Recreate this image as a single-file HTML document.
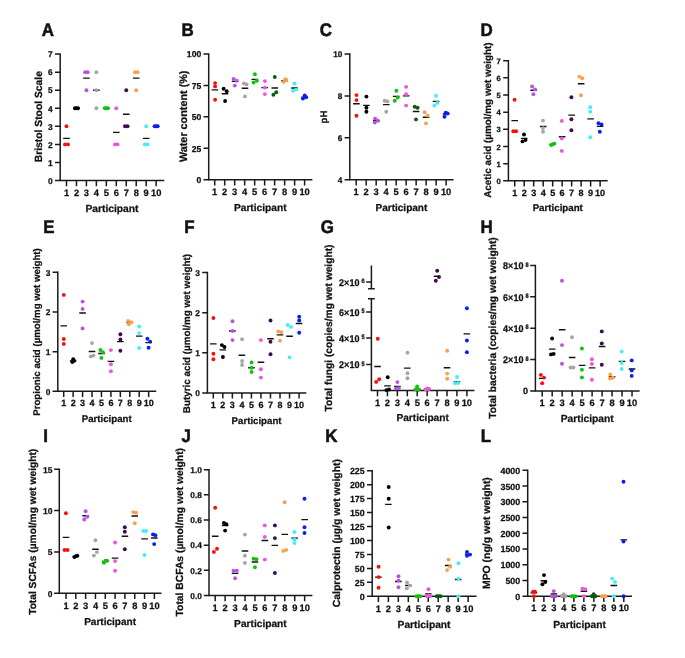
<!DOCTYPE html>
<html><head><meta charset="utf-8"><title>Figure</title>
<style>
html,body{margin:0;padding:0;background:#fff;}
svg{display:block;will-change:transform;}
text{font-family:"Liberation Sans",sans-serif;font-weight:bold;text-rendering:geometricPrecision;fill:#111;stroke:#111;stroke-width:0.25px;}
.lt{stroke-width:0.55px;}
.ax{stroke:#1a1a1a;stroke-width:1.5;fill:none;}
.mn{stroke:#111;stroke-width:1.35;fill:none;}
</style></head><body>
<svg width="685" height="658" viewBox="0 0 685 658" xmlns="http://www.w3.org/2000/svg">
<g><path d="M60.2 53.38V180.5" class="ax"/><path d="M59.5 180.5H164.3" class="ax"/><path d="M55 180.5H60.2M55 162.44H60.2M55 144.38H60.2M55 126.32H60.2M55 108.26H60.2M55 90.2H60.2M55 72.14H60.2M55 54.08H60.2" class="ax"/><path d="M66.5 180.5V186.2M76.46 180.5V186.2M86.42 180.5V186.2M96.38 180.5V186.2M106.34 180.5V186.2M116.3 180.5V186.2M126.26 180.5V186.2M136.22 180.5V186.2M146.18 180.5V186.2M156.14 180.5V186.2" class="ax"/><text transform="translate(52.7 180.5) scale(1 1.0)" y="3.28" font-size="8.4" text-anchor="end">0</text><text transform="translate(52.7 162.44) scale(1 1.0)" y="3.28" font-size="8.4" text-anchor="end">1</text><text transform="translate(52.7 144.38) scale(1 1.0)" y="3.28" font-size="8.4" text-anchor="end">2</text><text transform="translate(52.7 126.32) scale(1 1.0)" y="3.28" font-size="8.4" text-anchor="end">3</text><text transform="translate(52.7 108.26) scale(1 1.0)" y="3.28" font-size="8.4" text-anchor="end">4</text><text transform="translate(52.7 90.2) scale(1 1.0)" y="3.28" font-size="8.4" text-anchor="end">5</text><text transform="translate(52.7 72.14) scale(1 1.0)" y="3.28" font-size="8.4" text-anchor="end">6</text><text transform="translate(52.7 54.08) scale(1 1.0)" y="3.28" font-size="8.4" text-anchor="end">7</text><text transform="translate(66.5 192.3) scale(1 1.0)" y="3.3" font-size="9.3" text-anchor="middle">1</text><text transform="translate(76.46 192.3) scale(1 1.0)" y="3.3" font-size="9.3" text-anchor="middle">2</text><text transform="translate(86.42 192.3) scale(1 1.0)" y="3.3" font-size="9.3" text-anchor="middle">3</text><text transform="translate(96.38 192.3) scale(1 1.0)" y="3.3" font-size="9.3" text-anchor="middle">4</text><text transform="translate(106.34 192.3) scale(1 1.0)" y="3.3" font-size="9.3" text-anchor="middle">5</text><text transform="translate(116.3 192.3) scale(1 1.0)" y="3.3" font-size="9.3" text-anchor="middle">6</text><text transform="translate(126.26 192.3) scale(1 1.0)" y="3.3" font-size="9.3" text-anchor="middle">7</text><text transform="translate(136.22 192.3) scale(1 1.0)" y="3.3" font-size="9.3" text-anchor="middle">8</text><text transform="translate(146.18 192.3) scale(1 1.0)" y="3.3" font-size="9.3" text-anchor="middle">9</text><text transform="translate(156.14 192.3) scale(1 1.0)" y="3.3" font-size="9.3" text-anchor="middle">10</text><text x="111.95" y="212.1" font-size="10.29" text-anchor="middle">Participant</text><text transform="translate(41.6 116.7) rotate(-90)" font-size="10.33" text-anchor="middle">Bristol Stool Scale</text><text transform="translate(41.66 35.73) scale(0.93 1)" font-size="18.2" class="lt">A</text><path d="M63.2 138.36h6.6M73.16 108.26h6.6M83.12 78.16h6.6M93.08 90.2h6.6M103.04 108.26h6.6M113 132.34h6.6M122.96 114.28h6.6M132.92 78.16h6.6M142.88 138.36h6.6M152.84 126.32h6.6" class="mn"/><circle cx="65" cy="144.38" r="1.95" fill="#f21111"/><circle cx="68" cy="144.38" r="1.95" fill="#f21111"/><circle cx="66.5" cy="126.32" r="1.95" fill="#f21111"/><circle cx="74.96" cy="108.26" r="1.95" fill="#000000"/><circle cx="76.46" cy="108.26" r="1.95" fill="#000000"/><circle cx="77.96" cy="108.26" r="1.95" fill="#000000"/><circle cx="85.12" cy="72.14" r="1.95" fill="#b554e0"/><circle cx="87.72" cy="72.14" r="1.95" fill="#b554e0"/><circle cx="86.42" cy="90.2" r="1.95" fill="#b554e0"/><circle cx="96.38" cy="72.14" r="1.95" fill="#a6a6a6"/><circle cx="96.38" cy="90.2" r="1.95" fill="#a6a6a6"/><circle cx="96.38" cy="108.26" r="1.95" fill="#a6a6a6"/><circle cx="104.84" cy="108.26" r="1.95" fill="#12c012"/><circle cx="106.34" cy="108.26" r="1.95" fill="#12c012"/><circle cx="107.84" cy="108.26" r="1.95" fill="#12c012"/><circle cx="116.3" cy="108.26" r="1.95" fill="#ee55dd"/><circle cx="115" cy="144.38" r="1.95" fill="#ee55dd"/><circle cx="117.6" cy="144.38" r="1.95" fill="#ee55dd"/><circle cx="126.26" cy="90.2" r="1.95" fill="#3e0b50"/><circle cx="124.96" cy="126.32" r="1.95" fill="#3e0b50"/><circle cx="127.56" cy="126.32" r="1.95" fill="#3e0b50"/><circle cx="134.92" cy="72.14" r="1.95" fill="#f7a14f"/><circle cx="137.52" cy="72.14" r="1.95" fill="#f7a14f"/><circle cx="136.22" cy="90.2" r="1.95" fill="#f7a14f"/><circle cx="146.18" cy="126.32" r="1.95" fill="#44eef8"/><circle cx="144.88" cy="144.38" r="1.95" fill="#44eef8"/><circle cx="147.48" cy="144.38" r="1.95" fill="#44eef8"/><circle cx="154.64" cy="126.32" r="1.95" fill="#0a1ef0"/><circle cx="156.14" cy="126.32" r="1.95" fill="#0a1ef0"/><circle cx="157.64" cy="126.32" r="1.95" fill="#0a1ef0"/></g>
<g><path d="M208.7 53.3V179.7" class="ax"/><path d="M208 179.7H312.4" class="ax"/><path d="M203.5 179.7H208.7M203.5 148.27H208.7M203.5 116.85H208.7M203.5 85.42H208.7M203.5 54H208.7" class="ax"/><path d="M214.7 179.7V185.4M224.69 179.7V185.4M234.68 179.7V185.4M244.67 179.7V185.4M254.66 179.7V185.4M264.65 179.7V185.4M274.64 179.7V185.4M284.63 179.7V185.4M294.62 179.7V185.4M304.61 179.7V185.4" class="ax"/><text transform="translate(201.2 179.7) scale(1 1.0)" y="3.35" font-size="8.6" text-anchor="end">0</text><text transform="translate(201.2 148.27) scale(1 1.0)" y="3.35" font-size="8.6" text-anchor="end">25</text><text transform="translate(201.2 116.85) scale(1 1.0)" y="3.35" font-size="8.6" text-anchor="end">50</text><text transform="translate(201.2 85.42) scale(1 1.0)" y="3.35" font-size="8.6" text-anchor="end">75</text><text transform="translate(201.2 54) scale(1 1.0)" y="3.35" font-size="8.6" text-anchor="end">100</text><text transform="translate(214.7 191.45) scale(1 1.0)" y="3.3" font-size="9.3" text-anchor="middle">1</text><text transform="translate(224.69 191.45) scale(1 1.0)" y="3.3" font-size="9.3" text-anchor="middle">2</text><text transform="translate(234.68 191.45) scale(1 1.0)" y="3.3" font-size="9.3" text-anchor="middle">3</text><text transform="translate(244.67 191.45) scale(1 1.0)" y="3.3" font-size="9.3" text-anchor="middle">4</text><text transform="translate(254.66 191.45) scale(1 1.0)" y="3.3" font-size="9.3" text-anchor="middle">5</text><text transform="translate(264.65 191.45) scale(1 1.0)" y="3.3" font-size="9.3" text-anchor="middle">6</text><text transform="translate(274.64 191.45) scale(1 1.0)" y="3.3" font-size="9.3" text-anchor="middle">7</text><text transform="translate(284.63 191.45) scale(1 1.0)" y="3.3" font-size="9.3" text-anchor="middle">8</text><text transform="translate(294.62 191.45) scale(1 1.0)" y="3.3" font-size="9.3" text-anchor="middle">9</text><text transform="translate(304.61 191.45) scale(1 1.0)" y="3.3" font-size="9.3" text-anchor="middle">10</text><text x="260.25" y="211.4" font-size="10.19" text-anchor="middle">Participant</text><text transform="translate(186.6 116.3) rotate(-90)" font-size="10.82" text-anchor="middle">Water content (%)</text><text transform="translate(181.52 35.73) scale(0.93 1)" font-size="18.2" class="lt">B</text><path d="M211.6 89.8h6.6M221.7 93.7h6.6M231.8 81.4h6.6M241.7 88.2h6.6M251.5 79.3h6.6M261.4 87.6h6.6M271.5 88h6.6M281.3 80.7h6.6M291.2 88h6.6M301.3 97.1h6.6" class="mn"/><circle cx="215.1" cy="83.1" r="1.95" fill="#f21111"/><circle cx="215.1" cy="86.4" r="1.95" fill="#f21111"/><circle cx="215.1" cy="99.8" r="1.95" fill="#f21111"/><circle cx="223.6" cy="88.8" r="1.95" fill="#000000"/><circle cx="226.7" cy="91.3" r="1.95" fill="#000000"/><circle cx="225.1" cy="101" r="1.95" fill="#000000"/><circle cx="233.6" cy="78.9" r="1.95" fill="#b554e0"/><circle cx="236.8" cy="80.7" r="1.95" fill="#b554e0"/><circle cx="234.8" cy="85.6" r="1.95" fill="#b554e0"/><circle cx="243.9" cy="83.4" r="1.95" fill="#a6a6a6"/><circle cx="246.6" cy="84.4" r="1.95" fill="#a6a6a6"/><circle cx="244.9" cy="96.4" r="1.95" fill="#a6a6a6"/><circle cx="254.9" cy="74.2" r="1.95" fill="#12c012"/><circle cx="256.9" cy="80.7" r="1.95" fill="#12c012"/><circle cx="253.6" cy="82.5" r="1.95" fill="#12c012"/><circle cx="264.9" cy="81.1" r="1.95" fill="#ee55dd"/><circle cx="264.9" cy="87.6" r="1.95" fill="#ee55dd"/><circle cx="264.9" cy="94.1" r="1.95" fill="#ee55dd"/><circle cx="274.8" cy="77" r="1.95" fill="#0b5a14"/><circle cx="276.3" cy="92.2" r="1.95" fill="#0b5a14"/><circle cx="273.4" cy="94.8" r="1.95" fill="#0b5a14"/><circle cx="285.2" cy="79.3" r="1.95" fill="#f7a14f"/><circle cx="286.5" cy="79.9" r="1.95" fill="#f7a14f"/><circle cx="283.6" cy="81.9" r="1.95" fill="#f7a14f"/><circle cx="294.5" cy="83.5" r="1.95" fill="#44eef8"/><circle cx="296.2" cy="89.6" r="1.95" fill="#44eef8"/><circle cx="293.1" cy="90.7" r="1.95" fill="#44eef8"/><circle cx="304.7" cy="95.5" r="1.95" fill="#0a1ef0"/><circle cx="306.1" cy="97.2" r="1.95" fill="#0a1ef0"/><circle cx="302.9" cy="98.6" r="1.95" fill="#0a1ef0"/></g>
<g><path d="M349.8 53.3V179.8" class="ax"/><path d="M349.1 179.8H453.6" class="ax"/><path d="M344.6 179.8H349.8M344.6 137.87H349.8M344.6 95.93H349.8M344.6 54H349.8" class="ax"/><path d="M356.2 179.8V185.5M366.19 179.8V185.5M376.18 179.8V185.5M386.17 179.8V185.5M396.16 179.8V185.5M406.15 179.8V185.5M416.14 179.8V185.5M426.13 179.8V185.5M436.12 179.8V185.5M446.11 179.8V185.5" class="ax"/><text transform="translate(342.3 179.8) scale(1 1.0)" y="3.21" font-size="8.2" text-anchor="end">4</text><text transform="translate(342.3 137.87) scale(1 1.0)" y="3.21" font-size="8.2" text-anchor="end">6</text><text transform="translate(342.3 95.93) scale(1 1.0)" y="3.21" font-size="8.2" text-anchor="end">8</text><text transform="translate(342.3 54) scale(1 1.0)" y="3.21" font-size="8.2" text-anchor="end">10</text><text transform="translate(356.2 191.3) scale(1 1.0)" y="3.3" font-size="9.3" text-anchor="middle">1</text><text transform="translate(366.19 191.3) scale(1 1.0)" y="3.3" font-size="9.3" text-anchor="middle">2</text><text transform="translate(376.18 191.3) scale(1 1.0)" y="3.3" font-size="9.3" text-anchor="middle">3</text><text transform="translate(386.17 191.3) scale(1 1.0)" y="3.3" font-size="9.3" text-anchor="middle">4</text><text transform="translate(396.16 191.3) scale(1 1.0)" y="3.3" font-size="9.3" text-anchor="middle">5</text><text transform="translate(406.15 191.3) scale(1 1.0)" y="3.3" font-size="9.3" text-anchor="middle">6</text><text transform="translate(416.14 191.3) scale(1 1.0)" y="3.3" font-size="9.3" text-anchor="middle">7</text><text transform="translate(426.13 191.3) scale(1 1.0)" y="3.3" font-size="9.3" text-anchor="middle">8</text><text transform="translate(436.12 191.3) scale(1 1.0)" y="3.3" font-size="9.3" text-anchor="middle">9</text><text transform="translate(446.11 191.3) scale(1 1.0)" y="3.3" font-size="9.3" text-anchor="middle">10</text><text x="401.4" y="211" font-size="10.03" text-anchor="middle">Participant</text><text transform="translate(326.9 117) rotate(-90)" font-size="9.62" text-anchor="middle">pH</text><text transform="translate(319.76 35.77) scale(0.93 1)" font-size="18.2" class="lt">C</text><path d="M353.1 103.7h6.6M363.1 105.4h6.6M373 120.6h6.6M383 104.6h6.6M392.9 96.3h6.6M402.9 95.8h6.6M412.8 111.5h6.6M422.8 117.2h6.6M432.8 101.3h6.6M442.8 114h6.6" class="mn"/><circle cx="356.5" cy="95.1" r="1.95" fill="#f21111"/><circle cx="356.5" cy="100.1" r="1.95" fill="#f21111"/><circle cx="356.5" cy="115.7" r="1.95" fill="#f21111"/><circle cx="366.4" cy="96.6" r="1.95" fill="#000000"/><circle cx="366.4" cy="107.7" r="1.95" fill="#000000"/><circle cx="366.4" cy="111.8" r="1.95" fill="#000000"/><circle cx="375.1" cy="118.6" r="1.95" fill="#b554e0"/><circle cx="378" cy="120.8" r="1.95" fill="#b554e0"/><circle cx="374.8" cy="122.6" r="1.95" fill="#b554e0"/><circle cx="384.7" cy="100.7" r="1.95" fill="#a6a6a6"/><circle cx="387.4" cy="101.4" r="1.95" fill="#a6a6a6"/><circle cx="386.3" cy="111.7" r="1.95" fill="#a6a6a6"/><circle cx="396.4" cy="90.8" r="1.95" fill="#12c012"/><circle cx="397.7" cy="97.5" r="1.95" fill="#12c012"/><circle cx="394.8" cy="100.7" r="1.95" fill="#12c012"/><circle cx="406.1" cy="86.9" r="1.95" fill="#ee55dd"/><circle cx="406.1" cy="94.2" r="1.95" fill="#ee55dd"/><circle cx="406.1" cy="105.6" r="1.95" fill="#ee55dd"/><circle cx="414.7" cy="106.8" r="1.95" fill="#0b5a14"/><circle cx="417.6" cy="107.7" r="1.95" fill="#0b5a14"/><circle cx="416" cy="119.4" r="1.95" fill="#0b5a14"/><circle cx="424.6" cy="112.2" r="1.95" fill="#f7a14f"/><circle cx="427.6" cy="115.6" r="1.95" fill="#f7a14f"/><circle cx="426" cy="123.4" r="1.95" fill="#f7a14f"/><circle cx="436" cy="95.8" r="1.95" fill="#44eef8"/><circle cx="437.4" cy="102.9" r="1.95" fill="#44eef8"/><circle cx="434.4" cy="105.6" r="1.95" fill="#44eef8"/><circle cx="445.7" cy="112.7" r="1.95" fill="#0a1ef0"/><circle cx="447.5" cy="113.5" r="1.95" fill="#0a1ef0"/><circle cx="444.5" cy="116.7" r="1.95" fill="#0a1ef0"/></g>
<g><path d="M508.4 60V180.8" class="ax"/><path d="M507.7 180.8H607.7" class="ax"/><path d="M503.2 180.8H508.4M503.2 163.64H508.4M503.2 146.49H508.4M503.2 129.33H508.4M503.2 112.17H508.4M503.2 95.01H508.4M503.2 77.86H508.4M503.2 60.7H508.4" class="ax"/><path d="M514.7 180.8V186.5M524.19 180.8V186.5M533.68 180.8V186.5M543.17 180.8V186.5M552.66 180.8V186.5M562.15 180.8V186.5M571.64 180.8V186.5M581.13 180.8V186.5M590.62 180.8V186.5M600.11 180.8V186.5" class="ax"/><text transform="translate(500.9 180.8) scale(1 1.0)" y="3.03" font-size="7.7" text-anchor="end">0</text><text transform="translate(500.9 163.64) scale(1 1.0)" y="3.03" font-size="7.7" text-anchor="end">1</text><text transform="translate(500.9 146.49) scale(1 1.0)" y="3.03" font-size="7.7" text-anchor="end">2</text><text transform="translate(500.9 129.33) scale(1 1.0)" y="3.03" font-size="7.7" text-anchor="end">3</text><text transform="translate(500.9 112.17) scale(1 1.0)" y="3.03" font-size="7.7" text-anchor="end">4</text><text transform="translate(500.9 95.01) scale(1 1.0)" y="3.03" font-size="7.7" text-anchor="end">5</text><text transform="translate(500.9 77.86) scale(1 1.0)" y="3.03" font-size="7.7" text-anchor="end">6</text><text transform="translate(500.9 60.7) scale(1 1.0)" y="3.03" font-size="7.7" text-anchor="end">7</text><text transform="translate(514.7 192.3) scale(1 1.0)" y="3.23" font-size="9.1" text-anchor="middle">1</text><text transform="translate(524.19 192.3) scale(1 1.0)" y="3.23" font-size="9.1" text-anchor="middle">2</text><text transform="translate(533.68 192.3) scale(1 1.0)" y="3.23" font-size="9.1" text-anchor="middle">3</text><text transform="translate(543.17 192.3) scale(1 1.0)" y="3.23" font-size="9.1" text-anchor="middle">4</text><text transform="translate(552.66 192.3) scale(1 1.0)" y="3.23" font-size="9.1" text-anchor="middle">5</text><text transform="translate(562.15 192.3) scale(1 1.0)" y="3.23" font-size="9.1" text-anchor="middle">6</text><text transform="translate(571.64 192.3) scale(1 1.0)" y="3.23" font-size="9.1" text-anchor="middle">7</text><text transform="translate(581.13 192.3) scale(1 1.0)" y="3.23" font-size="9.1" text-anchor="middle">8</text><text transform="translate(590.62 192.3) scale(1 1.0)" y="3.23" font-size="9.1" text-anchor="middle">9</text><text transform="translate(600.11 192.3) scale(1 1.0)" y="3.23" font-size="9.1" text-anchor="middle">10</text><text x="557.75" y="211.2" font-size="9.72" text-anchor="middle">Participant</text><text transform="translate(490.8 120.1) rotate(-90)" font-size="9.9" text-anchor="middle">Acetic acid (µmol/mg wet weight)</text><text transform="translate(480.42 35.73) scale(0.93 1)" font-size="18.2" class="lt">D</text><path d="M511.4 120.6h6.6M520.89 138.4h6.6M530.38 90.2h6.6M539.87 126.5h6.6M549.36 144.3h6.6M558.85 136.7h6.6M568.34 115.1h6.6M577.83 83.7h6.6M587.32 118.8h6.6M596.81 126.3h6.6" class="mn"/><circle cx="514.6" cy="99.8" r="1.95" fill="#f21111"/><circle cx="513.3" cy="131.2" r="1.95" fill="#f21111"/><circle cx="516.1" cy="131.2" r="1.95" fill="#f21111"/><circle cx="524" cy="134.5" r="1.95" fill="#000000"/><circle cx="525.5" cy="140" r="1.95" fill="#000000"/><circle cx="522.5" cy="141.4" r="1.95" fill="#000000"/><circle cx="532.1" cy="86.4" r="1.95" fill="#b554e0"/><circle cx="535.1" cy="89.4" r="1.95" fill="#b554e0"/><circle cx="533.4" cy="94.3" r="1.95" fill="#b554e0"/><circle cx="543" cy="120.6" r="1.95" fill="#a6a6a6"/><circle cx="543" cy="128.1" r="1.95" fill="#a6a6a6"/><circle cx="543" cy="131.8" r="1.95" fill="#a6a6a6"/><circle cx="551.2" cy="145" r="1.95" fill="#12c012"/><circle cx="552.8" cy="144.2" r="1.95" fill="#12c012"/><circle cx="554.4" cy="143.6" r="1.95" fill="#12c012"/><circle cx="561.8" cy="120.9" r="1.95" fill="#ee55dd"/><circle cx="561.8" cy="138.4" r="1.95" fill="#ee55dd"/><circle cx="561.8" cy="150.9" r="1.95" fill="#ee55dd"/><circle cx="571.4" cy="97.3" r="1.95" fill="#3e0b50"/><circle cx="571.4" cy="119.2" r="1.95" fill="#3e0b50"/><circle cx="571.4" cy="130.2" r="1.95" fill="#3e0b50"/><circle cx="579.3" cy="76.6" r="1.95" fill="#f7a14f"/><circle cx="582.3" cy="78.2" r="1.95" fill="#f7a14f"/><circle cx="581" cy="95.3" r="1.95" fill="#f7a14f"/><circle cx="590.3" cy="107.2" r="1.95" fill="#44eef8"/><circle cx="590.3" cy="111.7" r="1.95" fill="#44eef8"/><circle cx="590.3" cy="137.3" r="1.95" fill="#44eef8"/><circle cx="598.5" cy="123.3" r="1.95" fill="#0a1ef0"/><circle cx="601.5" cy="124.4" r="1.95" fill="#0a1ef0"/><circle cx="599.8" cy="131.8" r="1.95" fill="#0a1ef0"/></g>
<g><path d="M57.8 271.6V391.3" class="ax"/><path d="M57.1 391.3H156.2" class="ax"/><path d="M52.6 391.3H57.8M52.6 351.63H57.8M52.6 311.97H57.8M52.6 272.3H57.8" class="ax"/><path d="M63.7 391.3V397M73.14 391.3V397M82.58 391.3V397M92.02 391.3V397M101.46 391.3V397M110.9 391.3V397M120.34 391.3V397M129.78 391.3V397M139.22 391.3V397M148.66 391.3V397" class="ax"/><text transform="translate(50.3 391.3) scale(1 1.0)" y="3.28" font-size="8.4" text-anchor="end">0</text><text transform="translate(50.3 351.63) scale(1 1.0)" y="3.28" font-size="8.4" text-anchor="end">1</text><text transform="translate(50.3 311.97) scale(1 1.0)" y="3.28" font-size="8.4" text-anchor="end">2</text><text transform="translate(50.3 272.3) scale(1 1.0)" y="3.28" font-size="8.4" text-anchor="end">3</text><text transform="translate(63.7 402.45) scale(1 1.0)" y="3.19" font-size="9.0" text-anchor="middle">1</text><text transform="translate(73.14 402.45) scale(1 1.0)" y="3.19" font-size="9.0" text-anchor="middle">2</text><text transform="translate(82.58 402.45) scale(1 1.0)" y="3.19" font-size="9.0" text-anchor="middle">3</text><text transform="translate(92.02 402.45) scale(1 1.0)" y="3.19" font-size="9.0" text-anchor="middle">4</text><text transform="translate(101.46 402.45) scale(1 1.0)" y="3.19" font-size="9.0" text-anchor="middle">5</text><text transform="translate(110.9 402.45) scale(1 1.0)" y="3.19" font-size="9.0" text-anchor="middle">6</text><text transform="translate(120.34 402.45) scale(1 1.0)" y="3.19" font-size="9.0" text-anchor="middle">7</text><text transform="translate(129.78 402.45) scale(1 1.0)" y="3.19" font-size="9.0" text-anchor="middle">8</text><text transform="translate(139.22 402.45) scale(1 1.0)" y="3.19" font-size="9.0" text-anchor="middle">9</text><text transform="translate(148.66 402.45) scale(1 1.0)" y="3.19" font-size="9.0" text-anchor="middle">10</text><text x="106.7" y="421.9" font-size="9.66" text-anchor="middle">Participant</text><text transform="translate(40.1 332) rotate(-90)" font-size="9.67" text-anchor="middle">Propionic acid (µmol/mg wet weight)</text><text transform="translate(43.22 232.83) scale(0.93 1)" font-size="18.2" class="lt">E</text><path d="M60.4 325.9h6.6M69.84 361h6.6M79.28 313h6.6M88.72 351.5h6.6M98.16 353.5h6.6M107.6 361.4h6.6M117.04 341.6h6.6M126.48 322.5h6.6M135.92 336.1h6.6M145.36 342.6h6.6" class="mn"/><circle cx="63.8" cy="294.9" r="1.95" fill="#f21111"/><circle cx="63.8" cy="339" r="1.95" fill="#f21111"/><circle cx="63.8" cy="343.9" r="1.95" fill="#f21111"/><circle cx="72.3" cy="362" r="1.95" fill="#000000"/><circle cx="74" cy="360.8" r="1.95" fill="#000000"/><circle cx="73.2" cy="359.2" r="1.95" fill="#000000"/><circle cx="82.6" cy="301.6" r="1.95" fill="#b554e0"/><circle cx="82.6" cy="308.9" r="1.95" fill="#b554e0"/><circle cx="82.6" cy="328.4" r="1.95" fill="#b554e0"/><circle cx="92" cy="343.1" r="1.95" fill="#a6a6a6"/><circle cx="90.8" cy="356.4" r="1.95" fill="#a6a6a6"/><circle cx="93.5" cy="355.6" r="1.95" fill="#a6a6a6"/><circle cx="100.4" cy="350" r="1.95" fill="#12c012"/><circle cx="102.9" cy="352.3" r="1.95" fill="#12c012"/><circle cx="101.4" cy="357.9" r="1.95" fill="#12c012"/><circle cx="110.9" cy="350.1" r="1.95" fill="#ee55dd"/><circle cx="110.9" cy="364.2" r="1.95" fill="#ee55dd"/><circle cx="110.9" cy="371.2" r="1.95" fill="#ee55dd"/><circle cx="120.4" cy="334.3" r="1.95" fill="#3e0b50"/><circle cx="120.4" cy="339.5" r="1.95" fill="#3e0b50"/><circle cx="120.4" cy="350.8" r="1.95" fill="#3e0b50"/><circle cx="128.2" cy="320.9" r="1.95" fill="#f7a14f"/><circle cx="131.4" cy="322.1" r="1.95" fill="#f7a14f"/><circle cx="128.8" cy="324.3" r="1.95" fill="#f7a14f"/><circle cx="139.2" cy="326.5" r="1.95" fill="#44eef8"/><circle cx="139.2" cy="333.1" r="1.95" fill="#44eef8"/><circle cx="139.2" cy="348" r="1.95" fill="#44eef8"/><circle cx="147.4" cy="338.7" r="1.95" fill="#0a1ef0"/><circle cx="150.1" cy="341.6" r="1.95" fill="#0a1ef0"/><circle cx="148.6" cy="347.8" r="1.95" fill="#0a1ef0"/></g>
<g><path d="M207.4 271.8V392.9" class="ax"/><path d="M206.7 392.9H306.3" class="ax"/><path d="M202.2 392.9H207.4M202.2 352.77H207.4M202.2 312.63H207.4M202.2 272.5H207.4" class="ax"/><path d="M213.3 392.9V398.6M222.83 392.9V398.6M232.36 392.9V398.6M241.89 392.9V398.6M251.42 392.9V398.6M260.95 392.9V398.6M270.48 392.9V398.6M280.01 392.9V398.6M289.54 392.9V398.6M299.07 392.9V398.6" class="ax"/><text transform="translate(199.9 392.9) scale(1 1.0)" y="3.28" font-size="8.4" text-anchor="end">0</text><text transform="translate(199.9 352.77) scale(1 1.0)" y="3.28" font-size="8.4" text-anchor="end">1</text><text transform="translate(199.9 312.63) scale(1 1.0)" y="3.28" font-size="8.4" text-anchor="end">2</text><text transform="translate(199.9 272.5) scale(1 1.0)" y="3.28" font-size="8.4" text-anchor="end">3</text><text transform="translate(213.3 404.61) scale(1 1.0)" y="3.19" font-size="9.0" text-anchor="middle">1</text><text transform="translate(222.83 404.61) scale(1 1.0)" y="3.19" font-size="9.0" text-anchor="middle">2</text><text transform="translate(232.36 404.61) scale(1 1.0)" y="3.19" font-size="9.0" text-anchor="middle">3</text><text transform="translate(241.89 404.61) scale(1 1.0)" y="3.19" font-size="9.0" text-anchor="middle">4</text><text transform="translate(251.42 404.61) scale(1 1.0)" y="3.19" font-size="9.0" text-anchor="middle">5</text><text transform="translate(260.95 404.61) scale(1 1.0)" y="3.19" font-size="9.0" text-anchor="middle">6</text><text transform="translate(270.48 404.61) scale(1 1.0)" y="3.19" font-size="9.0" text-anchor="middle">7</text><text transform="translate(280.01 404.61) scale(1 1.0)" y="3.19" font-size="9.0" text-anchor="middle">8</text><text transform="translate(289.54 404.61) scale(1 1.0)" y="3.19" font-size="9.0" text-anchor="middle">9</text><text transform="translate(299.07 404.61) scale(1 1.0)" y="3.19" font-size="9.0" text-anchor="middle">10</text><text x="256.55" y="423.9" font-size="9.66" text-anchor="middle">Participant</text><text transform="translate(189.8 333.6) rotate(-90)" font-size="9.84" text-anchor="middle">Butyric acid (µmol/mg wet weight)</text><text transform="translate(184.13 232.83) scale(0.93 1)" font-size="18.2" class="lt">F</text><path d="M210 343.8h6.6M219.53 349.9h6.6M229.06 331h6.6M238.59 355.2h6.6M248.12 367.7h6.6M257.65 362.2h6.6M267.18 338.7h6.6M276.71 334.9h6.6M286.24 336.2h6.6M295.77 323.5h6.6" class="mn"/><circle cx="213.4" cy="318" r="1.95" fill="#f21111"/><circle cx="213.4" cy="353.8" r="1.95" fill="#f21111"/><circle cx="213.4" cy="359.2" r="1.95" fill="#f21111"/><circle cx="221.9" cy="345.1" r="1.95" fill="#000000"/><circle cx="224.5" cy="347" r="1.95" fill="#000000"/><circle cx="222.9" cy="357" r="1.95" fill="#000000"/><circle cx="232.5" cy="321.2" r="1.95" fill="#b554e0"/><circle cx="232.5" cy="331" r="1.95" fill="#b554e0"/><circle cx="232.5" cy="340.1" r="1.95" fill="#b554e0"/><circle cx="242.1" cy="339.2" r="1.95" fill="#a6a6a6"/><circle cx="242.1" cy="361" r="1.95" fill="#a6a6a6"/><circle cx="242.1" cy="365" r="1.95" fill="#a6a6a6"/><circle cx="251.6" cy="362.4" r="1.95" fill="#12c012"/><circle cx="251.6" cy="367.7" r="1.95" fill="#12c012"/><circle cx="251.6" cy="372" r="1.95" fill="#12c012"/><circle cx="260.9" cy="340.1" r="1.95" fill="#ee55dd"/><circle cx="260.9" cy="369.3" r="1.95" fill="#ee55dd"/><circle cx="260.9" cy="377.6" r="1.95" fill="#ee55dd"/><circle cx="270.5" cy="320.5" r="1.95" fill="#3e0b50"/><circle cx="270.5" cy="341.7" r="1.95" fill="#3e0b50"/><circle cx="270.5" cy="354.3" r="1.95" fill="#3e0b50"/><circle cx="278.2" cy="331.4" r="1.95" fill="#f7a14f"/><circle cx="281.4" cy="332.1" r="1.95" fill="#f7a14f"/><circle cx="280" cy="340.7" r="1.95" fill="#f7a14f"/><circle cx="287.8" cy="325" r="1.95" fill="#44eef8"/><circle cx="291" cy="326.9" r="1.95" fill="#44eef8"/><circle cx="289.6" cy="357.4" r="1.95" fill="#44eef8"/><circle cx="299.2" cy="316.7" r="1.95" fill="#0a1ef0"/><circle cx="299.2" cy="320.5" r="1.95" fill="#0a1ef0"/><circle cx="299.2" cy="332.8" r="1.95" fill="#0a1ef0"/></g>
<g><path d="M371.4 390.5V298.7M368 298.7H374.8M371.4 288.8V265.5M368 288.8H374.8" class="ax"/><path d="M370.7 390.5H474.5" class="ax"/><path d="M366.2 364.4H371.4M366.2 338.1H371.4M366.2 311.9H371.4M366.2 281.9H371.4" class="ax"/><path d="M377.5 390.5V396.2M387.43 390.5V396.2M397.36 390.5V396.2M407.29 390.5V396.2M417.22 390.5V396.2M427.15 390.5V396.2M437.08 390.5V396.2M447.01 390.5V396.2M456.94 390.5V396.2M466.87 390.5V396.2" class="ax"/><text transform="translate(359.4 364.4) scale(1 1.08)" y="3.4" font-size="9.0" text-anchor="end">2×10</text><text transform="translate(361.4 364.4) scale(1 1.14)" y="1" font-size="5.6">5</text><text transform="translate(359.4 338.1) scale(1 1.08)" y="3.4" font-size="9.0" text-anchor="end">4×10</text><text transform="translate(361.4 338.1) scale(1 1.14)" y="1" font-size="5.6">5</text><text transform="translate(359.4 311.9) scale(1 1.08)" y="3.4" font-size="9.0" text-anchor="end">6×10</text><text transform="translate(361.4 311.9) scale(1 1.14)" y="1" font-size="5.6">5</text><text transform="translate(359.4 281.9) scale(1 1.08)" y="3.4" font-size="9.0" text-anchor="end">2×10</text><text transform="translate(361.4 281.9) scale(1 1.14)" y="1" font-size="5.6">6</text><text transform="translate(377.5 402.51) scale(1 1.0)" y="3.3" font-size="9.3" text-anchor="middle">1</text><text transform="translate(387.43 402.51) scale(1 1.0)" y="3.3" font-size="9.3" text-anchor="middle">2</text><text transform="translate(397.36 402.51) scale(1 1.0)" y="3.3" font-size="9.3" text-anchor="middle">3</text><text transform="translate(407.29 402.51) scale(1 1.0)" y="3.3" font-size="9.3" text-anchor="middle">4</text><text transform="translate(417.22 402.51) scale(1 1.0)" y="3.3" font-size="9.3" text-anchor="middle">5</text><text transform="translate(427.15 402.51) scale(1 1.0)" y="3.3" font-size="9.3" text-anchor="middle">6</text><text transform="translate(437.08 402.51) scale(1 1.0)" y="3.3" font-size="9.3" text-anchor="middle">7</text><text transform="translate(447.01 402.51) scale(1 1.0)" y="3.3" font-size="9.3" text-anchor="middle">8</text><text transform="translate(456.94 402.51) scale(1 1.0)" y="3.3" font-size="9.3" text-anchor="middle">9</text><text transform="translate(466.87 402.51) scale(1 1.0)" y="3.3" font-size="9.3" text-anchor="middle">10</text><text x="422.65" y="421.2" font-size="10.13" text-anchor="middle">Participant</text><text transform="translate(331.6 328) rotate(-90)" font-size="10.24" text-anchor="middle">Total fungi (copies/mg wet weight)</text><text transform="translate(320.66 232.67) scale(0.93 1)" font-size="18.2" class="lt">G</text><path d="M374.2 366.5h6.6M384.13 385.8h6.6M394.06 386.3h6.6M403.99 368.1h6.6M413.92 389h6.6M423.85 389h6.6M433.78 276.2h6.6M443.71 367.7h6.6M453.64 381.6h6.6M463.57 333.8h6.6" class="mn"/><circle cx="377.8" cy="338.8" r="1.95" fill="#f21111"/><circle cx="379.2" cy="379.2" r="1.95" fill="#f21111"/><circle cx="376.2" cy="381.9" r="1.95" fill="#f21111"/><circle cx="387.7" cy="377.3" r="1.95" fill="#000000"/><circle cx="386.4" cy="390.1" r="1.95" fill="#000000"/><circle cx="389" cy="389.5" r="1.95" fill="#000000"/><circle cx="397.4" cy="382.1" r="1.95" fill="#b554e0"/><circle cx="396.1" cy="388.4" r="1.95" fill="#b554e0"/><circle cx="398.9" cy="388.1" r="1.95" fill="#b554e0"/><circle cx="407.5" cy="352.7" r="1.95" fill="#a6a6a6"/><circle cx="407.5" cy="373.2" r="1.95" fill="#a6a6a6"/><circle cx="407.5" cy="378.3" r="1.95" fill="#a6a6a6"/><circle cx="417.1" cy="386.5" r="1.95" fill="#12c012"/><circle cx="415.5" cy="389.5" r="1.95" fill="#12c012"/><circle cx="418.7" cy="389.5" r="1.95" fill="#12c012"/><circle cx="425.8" cy="389.5" r="1.95" fill="#ee55dd"/><circle cx="427.5" cy="388.5" r="1.95" fill="#ee55dd"/><circle cx="429" cy="389" r="1.95" fill="#ee55dd"/><circle cx="437.2" cy="270.8" r="1.95" fill="#3e0b50"/><circle cx="439" cy="277.1" r="1.95" fill="#3e0b50"/><circle cx="435.8" cy="280.8" r="1.95" fill="#3e0b50"/><circle cx="447.2" cy="350.8" r="1.95" fill="#f7a14f"/><circle cx="447.2" cy="373.6" r="1.95" fill="#f7a14f"/><circle cx="447.2" cy="378.7" r="1.95" fill="#f7a14f"/><circle cx="457" cy="377" r="1.95" fill="#44eef8"/><circle cx="455.2" cy="383.3" r="1.95" fill="#44eef8"/><circle cx="458.1" cy="383" r="1.95" fill="#44eef8"/><circle cx="466.9" cy="308.2" r="1.95" fill="#0a1ef0"/><circle cx="466.9" cy="340.5" r="1.95" fill="#0a1ef0"/><circle cx="466.9" cy="352.2" r="1.95" fill="#0a1ef0"/></g>
<g><path d="M535.4 264.8V390.9" class="ax"/><path d="M534.7 390.9H639.6" class="ax"/><path d="M530.2 390.9H535.4M530.2 359.55H535.4M530.2 328.2H535.4M530.2 296.85H535.4M530.2 265.5H535.4" class="ax"/><path d="M542.2 390.9V396.6M552.18 390.9V396.6M562.16 390.9V396.6M572.14 390.9V396.6M582.12 390.9V396.6M592.1 390.9V396.6M602.08 390.9V396.6M612.06 390.9V396.6M622.04 390.9V396.6M632.02 390.9V396.6" class="ax"/><text transform="translate(527.9 390.9) scale(1 1.0)" y="3.49" font-size="9.0" text-anchor="end">0</text><text transform="translate(523.4 359.55) scale(1 1.08)" y="3.4" font-size="9.0" text-anchor="end">2×10</text><text transform="translate(525.4 359.55) scale(1 1.14)" y="1" font-size="5.6">8</text><text transform="translate(523.4 328.2) scale(1 1.08)" y="3.4" font-size="9.0" text-anchor="end">4×10</text><text transform="translate(525.4 328.2) scale(1 1.14)" y="1" font-size="5.6">8</text><text transform="translate(523.4 296.85) scale(1 1.08)" y="3.4" font-size="9.0" text-anchor="end">6×10</text><text transform="translate(525.4 296.85) scale(1 1.14)" y="1" font-size="5.6">8</text><text transform="translate(523.4 265.5) scale(1 1.08)" y="3.4" font-size="9.0" text-anchor="end">8×10</text><text transform="translate(525.4 265.5) scale(1 1.14)" y="1" font-size="5.6">8</text><text transform="translate(542.2 402.81) scale(1 1.0)" y="3.3" font-size="9.3" text-anchor="middle">1</text><text transform="translate(552.18 402.81) scale(1 1.0)" y="3.3" font-size="9.3" text-anchor="middle">2</text><text transform="translate(562.16 402.81) scale(1 1.0)" y="3.3" font-size="9.3" text-anchor="middle">3</text><text transform="translate(572.14 402.81) scale(1 1.0)" y="3.3" font-size="9.3" text-anchor="middle">4</text><text transform="translate(582.12 402.81) scale(1 1.0)" y="3.3" font-size="9.3" text-anchor="middle">5</text><text transform="translate(592.1 402.81) scale(1 1.0)" y="3.3" font-size="9.3" text-anchor="middle">6</text><text transform="translate(602.08 402.81) scale(1 1.0)" y="3.3" font-size="9.3" text-anchor="middle">7</text><text transform="translate(612.06 402.81) scale(1 1.0)" y="3.3" font-size="9.3" text-anchor="middle">8</text><text transform="translate(622.04 402.81) scale(1 1.0)" y="3.3" font-size="9.3" text-anchor="middle">9</text><text transform="translate(632.02 402.81) scale(1 1.0)" y="3.3" font-size="9.3" text-anchor="middle">10</text><text x="587.2" y="422.1" font-size="10.26" text-anchor="middle">Participant</text><text transform="translate(495.8 328) rotate(-90)" font-size="10.26" text-anchor="middle">Total bacteria (copies/mg wet weight)</text><text transform="translate(480.43 233.03) scale(0.93 1)" font-size="18.2" class="lt">H</text><path d="M538.9 378.4h6.6M548.88 349.1h6.6M558.86 329.7h6.6M568.84 357.5h6.6M578.82 365.3h6.6M588.8 367.8h6.6M598.78 346.5h6.6M608.76 376.7h6.6M618.74 361.3h6.6M628.72 369h6.6" class="mn"/><circle cx="540.9" cy="374.9" r="1.95" fill="#f21111"/><circle cx="543.9" cy="377.6" r="1.95" fill="#f21111"/><circle cx="542.2" cy="383.3" r="1.95" fill="#f21111"/><circle cx="552.1" cy="338.5" r="1.95" fill="#000000"/><circle cx="551" cy="354.4" r="1.95" fill="#000000"/><circle cx="553.6" cy="353.9" r="1.95" fill="#000000"/><circle cx="562" cy="280.7" r="1.95" fill="#b554e0"/><circle cx="562" cy="345.1" r="1.95" fill="#b554e0"/><circle cx="562" cy="363.8" r="1.95" fill="#b554e0"/><circle cx="572" cy="337.3" r="1.95" fill="#a6a6a6"/><circle cx="570.5" cy="367.5" r="1.95" fill="#a6a6a6"/><circle cx="573.4" cy="367.5" r="1.95" fill="#a6a6a6"/><circle cx="581.9" cy="348.5" r="1.95" fill="#12c012"/><circle cx="581.9" cy="369.8" r="1.95" fill="#12c012"/><circle cx="581.9" cy="377.4" r="1.95" fill="#12c012"/><circle cx="591.9" cy="359.2" r="1.95" fill="#ee55dd"/><circle cx="591.9" cy="364" r="1.95" fill="#ee55dd"/><circle cx="591.9" cy="379.7" r="1.95" fill="#ee55dd"/><circle cx="601.8" cy="331.4" r="1.95" fill="#3e0b50"/><circle cx="601.8" cy="343.4" r="1.95" fill="#3e0b50"/><circle cx="601.8" cy="364.7" r="1.95" fill="#3e0b50"/><circle cx="610.3" cy="374.4" r="1.95" fill="#f7a14f"/><circle cx="612.9" cy="377.8" r="1.95" fill="#f7a14f"/><circle cx="610.1" cy="378.4" r="1.95" fill="#f7a14f"/><circle cx="621.7" cy="351.6" r="1.95" fill="#44eef8"/><circle cx="621.7" cy="363" r="1.95" fill="#44eef8"/><circle cx="621.7" cy="369" r="1.95" fill="#44eef8"/><circle cx="631.7" cy="360.4" r="1.95" fill="#0a1ef0"/><circle cx="631.7" cy="370.4" r="1.95" fill="#0a1ef0"/><circle cx="631.7" cy="375.9" r="1.95" fill="#0a1ef0"/></g>
<g><path d="M59.3 468.5V593.3" class="ax"/><path d="M58.6 593.3H161.5" class="ax"/><path d="M54.1 593.3H59.3M54.1 551.93H59.3M54.1 510.57H59.3M54.1 469.2H59.3" class="ax"/><path d="M66 593.3V599M75.82 593.3V599M85.64 593.3V599M95.46 593.3V599M105.28 593.3V599M115.1 593.3V599M124.92 593.3V599M134.74 593.3V599M144.56 593.3V599M154.38 593.3V599" class="ax"/><text transform="translate(52.4 593.3) scale(1 1.0)" y="3.32" font-size="8.5" text-anchor="end">0</text><text transform="translate(52.4 551.93) scale(1 1.0)" y="3.32" font-size="8.5" text-anchor="end">5</text><text transform="translate(52.4 510.57) scale(1 1.0)" y="3.32" font-size="8.5" text-anchor="end">10</text><text transform="translate(52.4 469.2) scale(1 1.0)" y="3.32" font-size="8.5" text-anchor="end">15</text><text transform="translate(66 605.41) scale(1 1.0)" y="3.3" font-size="9.3" text-anchor="middle">1</text><text transform="translate(75.82 605.41) scale(1 1.0)" y="3.3" font-size="9.3" text-anchor="middle">2</text><text transform="translate(85.64 605.41) scale(1 1.0)" y="3.3" font-size="9.3" text-anchor="middle">3</text><text transform="translate(95.46 605.41) scale(1 1.0)" y="3.3" font-size="9.3" text-anchor="middle">4</text><text transform="translate(105.28 605.41) scale(1 1.0)" y="3.3" font-size="9.3" text-anchor="middle">5</text><text transform="translate(115.1 605.41) scale(1 1.0)" y="3.3" font-size="9.3" text-anchor="middle">6</text><text transform="translate(124.92 605.41) scale(1 1.0)" y="3.3" font-size="9.3" text-anchor="middle">7</text><text transform="translate(134.74 605.41) scale(1 1.0)" y="3.3" font-size="9.3" text-anchor="middle">8</text><text transform="translate(144.56 605.41) scale(1 1.0)" y="3.3" font-size="9.3" text-anchor="middle">9</text><text transform="translate(154.38 605.41) scale(1 1.0)" y="3.3" font-size="9.3" text-anchor="middle">10</text><text x="110.1" y="625.1" font-size="10.05" text-anchor="middle">Participant</text><text transform="translate(35.9 531.8) rotate(-90)" font-size="10.21" text-anchor="middle">Total SCFAs (µmol/mg wet weight)</text><text transform="translate(43.23 442.03) scale(0.93 1)" font-size="18.2" class="lt">I</text><path d="M62.7 537.4h6.6M72.52 556.3h6.6M82.34 515.7h6.6M92.16 549.2h6.6M101.98 561.4h6.6M111.8 558.1h6.6M121.62 536.2h6.6M131.44 516h6.6M141.26 538.9h6.6M151.08 538h6.6" class="mn"/><circle cx="65.9" cy="513.3" r="1.95" fill="#f21111"/><circle cx="64.5" cy="550" r="1.95" fill="#f21111"/><circle cx="67.6" cy="550" r="1.95" fill="#f21111"/><circle cx="74.4" cy="557.1" r="1.95" fill="#000000"/><circle cx="76" cy="556.1" r="1.95" fill="#000000"/><circle cx="77.3" cy="555.8" r="1.95" fill="#000000"/><circle cx="85.6" cy="511.2" r="1.95" fill="#b554e0"/><circle cx="87.2" cy="516.8" r="1.95" fill="#b554e0"/><circle cx="84.3" cy="519.5" r="1.95" fill="#b554e0"/><circle cx="95.4" cy="540.2" r="1.95" fill="#a6a6a6"/><circle cx="96.9" cy="552.1" r="1.95" fill="#a6a6a6"/><circle cx="93.9" cy="555.6" r="1.95" fill="#a6a6a6"/><circle cx="103.9" cy="562.7" r="1.95" fill="#12c012"/><circle cx="105.6" cy="560.8" r="1.95" fill="#12c012"/><circle cx="107" cy="560.8" r="1.95" fill="#12c012"/><circle cx="115.1" cy="542.5" r="1.95" fill="#ee55dd"/><circle cx="115.1" cy="561.1" r="1.95" fill="#ee55dd"/><circle cx="115.1" cy="570.8" r="1.95" fill="#ee55dd"/><circle cx="124.8" cy="527.3" r="1.95" fill="#3e0b50"/><circle cx="124.8" cy="531.8" r="1.95" fill="#3e0b50"/><circle cx="124.8" cy="549.2" r="1.95" fill="#3e0b50"/><circle cx="133.2" cy="512.1" r="1.95" fill="#f7a14f"/><circle cx="136" cy="512.8" r="1.95" fill="#f7a14f"/><circle cx="134.8" cy="523.3" r="1.95" fill="#f7a14f"/><circle cx="143.3" cy="531" r="1.95" fill="#44eef8"/><circle cx="146.1" cy="531" r="1.95" fill="#44eef8"/><circle cx="144.5" cy="555" r="1.95" fill="#44eef8"/><circle cx="153" cy="534.4" r="1.95" fill="#0a1ef0"/><circle cx="155.4" cy="535.2" r="1.95" fill="#0a1ef0"/><circle cx="154.2" cy="544.1" r="1.95" fill="#0a1ef0"/></g>
<g><path d="M209 469V595.5" class="ax"/><path d="M208.3 595.5H312.4" class="ax"/><path d="M203.8 595.5H209M203.8 570.34H209M203.8 545.18H209M203.8 520.02H209M203.8 494.86H209M203.8 469.7H209" class="ax"/><path d="M215.2 595.5V601.2M225.14 595.5V601.2M235.08 595.5V601.2M245.02 595.5V601.2M254.96 595.5V601.2M264.9 595.5V601.2M274.84 595.5V601.2M284.78 595.5V601.2M294.72 595.5V601.2M304.66 595.5V601.2" class="ax"/><text transform="translate(202 595.5) scale(1 1.0)" y="3.28" font-size="8.4" text-anchor="end">0.0</text><text transform="translate(202 570.34) scale(1 1.0)" y="3.28" font-size="8.4" text-anchor="end">0.2</text><text transform="translate(202 545.18) scale(1 1.0)" y="3.28" font-size="8.4" text-anchor="end">0.4</text><text transform="translate(202 520.02) scale(1 1.0)" y="3.28" font-size="8.4" text-anchor="end">0.6</text><text transform="translate(202 494.86) scale(1 1.0)" y="3.28" font-size="8.4" text-anchor="end">0.8</text><text transform="translate(202 469.7) scale(1 1.0)" y="3.28" font-size="8.4" text-anchor="end">1.0</text><text transform="translate(215.2 607.31) scale(1 1.0)" y="3.3" font-size="9.3" text-anchor="middle">1</text><text transform="translate(225.14 607.31) scale(1 1.0)" y="3.3" font-size="9.3" text-anchor="middle">2</text><text transform="translate(235.08 607.31) scale(1 1.0)" y="3.3" font-size="9.3" text-anchor="middle">3</text><text transform="translate(245.02 607.31) scale(1 1.0)" y="3.3" font-size="9.3" text-anchor="middle">4</text><text transform="translate(254.96 607.31) scale(1 1.0)" y="3.3" font-size="9.3" text-anchor="middle">5</text><text transform="translate(264.9 607.31) scale(1 1.0)" y="3.3" font-size="9.3" text-anchor="middle">6</text><text transform="translate(274.84 607.31) scale(1 1.0)" y="3.3" font-size="9.3" text-anchor="middle">7</text><text transform="translate(284.78 607.31) scale(1 1.0)" y="3.3" font-size="9.3" text-anchor="middle">8</text><text transform="translate(294.72 607.31) scale(1 1.0)" y="3.3" font-size="9.3" text-anchor="middle">9</text><text transform="translate(304.66 607.31) scale(1 1.0)" y="3.3" font-size="9.3" text-anchor="middle">10</text><text x="260.4" y="627.1" font-size="10.18" text-anchor="middle">Participant</text><text transform="translate(182.9 532.2) rotate(-90)" font-size="10.32" text-anchor="middle">Total BCFAs (µmol/mg wet weight)</text><text transform="translate(181.52 442.35) scale(0.93 1)" font-size="18.2" class="lt">J</text><path d="M211.9 536.2h6.6M221.84 525.6h6.6M231.78 573.4h6.6M241.72 551h6.6M251.66 562h6.6M261.6 540.5h6.6M271.54 545.3h6.6M281.48 534.3h6.6M291.42 538.1h6.6M301.36 519.6h6.6" class="mn"/><circle cx="215.2" cy="507.8" r="1.95" fill="#f21111"/><circle cx="217" cy="548.8" r="1.95" fill="#f21111"/><circle cx="213.9" cy="551.9" r="1.95" fill="#f21111"/><circle cx="223.9" cy="523" r="1.95" fill="#000000"/><circle cx="226.4" cy="524.3" r="1.95" fill="#000000"/><circle cx="225.1" cy="530.6" r="1.95" fill="#000000"/><circle cx="233.5" cy="570.8" r="1.95" fill="#b554e0"/><circle cx="236.8" cy="570.8" r="1.95" fill="#b554e0"/><circle cx="235.1" cy="578.2" r="1.95" fill="#b554e0"/><circle cx="244.9" cy="534.6" r="1.95" fill="#a6a6a6"/><circle cx="244.9" cy="555.8" r="1.95" fill="#a6a6a6"/><circle cx="244.9" cy="562.9" r="1.95" fill="#a6a6a6"/><circle cx="253.6" cy="558.8" r="1.95" fill="#12c012"/><circle cx="256.5" cy="559.2" r="1.95" fill="#12c012"/><circle cx="254.9" cy="567.2" r="1.95" fill="#12c012"/><circle cx="264.8" cy="525.4" r="1.95" fill="#ee55dd"/><circle cx="264.8" cy="536.9" r="1.95" fill="#ee55dd"/><circle cx="264.8" cy="559.6" r="1.95" fill="#ee55dd"/><circle cx="274.9" cy="525.4" r="1.95" fill="#3e0b50"/><circle cx="274.9" cy="538.1" r="1.95" fill="#3e0b50"/><circle cx="274.9" cy="573" r="1.95" fill="#3e0b50"/><circle cx="284.7" cy="502.3" r="1.95" fill="#f7a14f"/><circle cx="283.3" cy="550.9" r="1.95" fill="#f7a14f"/><circle cx="286.2" cy="549.9" r="1.95" fill="#f7a14f"/><circle cx="294.5" cy="531.9" r="1.95" fill="#44eef8"/><circle cx="294.5" cy="539.8" r="1.95" fill="#44eef8"/><circle cx="294.5" cy="543.1" r="1.95" fill="#44eef8"/><circle cx="304.5" cy="498.7" r="1.95" fill="#0a1ef0"/><circle cx="304.5" cy="527.3" r="1.95" fill="#0a1ef0"/><circle cx="304.5" cy="533" r="1.95" fill="#0a1ef0"/></g>
<g><path d="M372.2 470V596.3" class="ax"/><path d="M371.5 596.3H476.5" class="ax"/><path d="M367 596.3H372.2M367 582.34H372.2M367 568.39H372.2M367 554.43H372.2M367 540.48H372.2M367 526.52H372.2M367 512.57H372.2M367 498.61H372.2M367 484.66H372.2M367 470.7H372.2" class="ax"/><path d="M378.4 596.3V602M388.37 596.3V602M398.34 596.3V602M408.31 596.3V602M418.28 596.3V602M428.25 596.3V602M438.22 596.3V602M448.19 596.3V602M458.16 596.3V602M468.13 596.3V602" class="ax"/><text transform="translate(364.7 596.3) scale(1 1.0)" y="3.46" font-size="8.9" text-anchor="end">0</text><text transform="translate(364.7 582.34) scale(1 1.0)" y="3.46" font-size="8.9" text-anchor="end">25</text><text transform="translate(364.7 568.39) scale(1 1.0)" y="3.46" font-size="8.9" text-anchor="end">50</text><text transform="translate(364.7 554.43) scale(1 1.0)" y="3.46" font-size="8.9" text-anchor="end">75</text><text transform="translate(364.7 540.48) scale(1 1.0)" y="3.46" font-size="8.9" text-anchor="end">100</text><text transform="translate(364.7 526.52) scale(1 1.0)" y="3.46" font-size="8.9" text-anchor="end">125</text><text transform="translate(364.7 512.57) scale(1 1.0)" y="3.46" font-size="8.9" text-anchor="end">150</text><text transform="translate(364.7 498.61) scale(1 1.0)" y="3.46" font-size="8.9" text-anchor="end">175</text><text transform="translate(364.7 484.66) scale(1 1.0)" y="3.46" font-size="8.9" text-anchor="end">200</text><text transform="translate(364.7 470.7) scale(1 1.0)" y="3.46" font-size="8.9" text-anchor="end">225</text><text transform="translate(378.4 608.31) scale(1 1.0)" y="3.3" font-size="9.3" text-anchor="middle">1</text><text transform="translate(388.37 608.31) scale(1 1.0)" y="3.3" font-size="9.3" text-anchor="middle">2</text><text transform="translate(398.34 608.31) scale(1 1.0)" y="3.3" font-size="9.3" text-anchor="middle">3</text><text transform="translate(408.31 608.31) scale(1 1.0)" y="3.3" font-size="9.3" text-anchor="middle">4</text><text transform="translate(418.28 608.31) scale(1 1.0)" y="3.3" font-size="9.3" text-anchor="middle">5</text><text transform="translate(428.25 608.31) scale(1 1.0)" y="3.3" font-size="9.3" text-anchor="middle">6</text><text transform="translate(438.22 608.31) scale(1 1.0)" y="3.3" font-size="9.3" text-anchor="middle">7</text><text transform="translate(448.19 608.31) scale(1 1.0)" y="3.3" font-size="9.3" text-anchor="middle">8</text><text transform="translate(458.16 608.31) scale(1 1.0)" y="3.3" font-size="9.3" text-anchor="middle">9</text><text transform="translate(468.13 608.31) scale(1 1.0)" y="3.3" font-size="9.3" text-anchor="middle">10</text><text x="424.05" y="628.3" font-size="10.24" text-anchor="middle">Participant</text><text transform="translate(339.8 533.1) rotate(-90)" font-size="10.42" text-anchor="middle">Calprotectin (µg/g wet weight)</text><text transform="translate(325.23 442.03) scale(0.93 1)" font-size="18.2" class="lt">K</text><path d="M375.1 577.1h6.6M385.07 504.4h6.6M395.04 581.5h6.6M405.01 585.4h6.6M414.98 596.2h6.6M424.95 593.8h6.6M434.92 596.2h6.6M444.89 565.5h6.6M454.86 579.5h6.6M464.83 554.1h6.6" class="mn"/><circle cx="378.6" cy="566.7" r="1.95" fill="#f21111"/><circle cx="378.6" cy="577.1" r="1.95" fill="#f21111"/><circle cx="378.6" cy="587.7" r="1.95" fill="#f21111"/><circle cx="388.7" cy="487" r="1.95" fill="#000000"/><circle cx="388.7" cy="498.7" r="1.95" fill="#000000"/><circle cx="388.7" cy="527.5" r="1.95" fill="#000000"/><circle cx="398.5" cy="576.3" r="1.95" fill="#b554e0"/><circle cx="398.5" cy="580.6" r="1.95" fill="#b554e0"/><circle cx="398.5" cy="587.2" r="1.95" fill="#b554e0"/><circle cx="407.1" cy="582.4" r="1.95" fill="#a6a6a6"/><circle cx="410.1" cy="585.6" r="1.95" fill="#a6a6a6"/><circle cx="406.9" cy="588.3" r="1.95" fill="#a6a6a6"/><circle cx="416.6" cy="596.2" r="1.95" fill="#12c012"/><circle cx="418.4" cy="596.2" r="1.95" fill="#12c012"/><circle cx="420.2" cy="596.2" r="1.95" fill="#12c012"/><circle cx="428.5" cy="589.3" r="1.95" fill="#ee55dd"/><circle cx="427" cy="596.2" r="1.95" fill="#ee55dd"/><circle cx="430" cy="596.2" r="1.95" fill="#ee55dd"/><circle cx="436.8" cy="596.2" r="1.95" fill="#0b5a14"/><circle cx="438.6" cy="596.2" r="1.95" fill="#0b5a14"/><circle cx="440.4" cy="596.2" r="1.95" fill="#0b5a14"/><circle cx="448.5" cy="559.6" r="1.95" fill="#f7a14f"/><circle cx="450.1" cy="566.7" r="1.95" fill="#f7a14f"/><circle cx="447.1" cy="570.1" r="1.95" fill="#f7a14f"/><circle cx="458.5" cy="563.3" r="1.95" fill="#44eef8"/><circle cx="458.5" cy="578.8" r="1.95" fill="#44eef8"/><circle cx="458.5" cy="596.2" r="1.95" fill="#44eef8"/><circle cx="467" cy="551.9" r="1.95" fill="#0a1ef0"/><circle cx="470" cy="554.6" r="1.95" fill="#0a1ef0"/><circle cx="467" cy="555.7" r="1.95" fill="#0a1ef0"/></g>
<g><path d="M527.7 469.6V596.2" class="ax"/><path d="M527 596.2H632" class="ax"/><path d="M522.5 596.2H527.7M522.5 580.46H527.7M522.5 564.73H527.7M522.5 548.99H527.7M522.5 533.25H527.7M522.5 517.51H527.7M522.5 501.78H527.7M522.5 486.04H527.7M522.5 470.3H527.7" class="ax"/><path d="M533.9 596.2V601.9M543.89 596.2V601.9M553.88 596.2V601.9M563.87 596.2V601.9M573.86 596.2V601.9M583.85 596.2V601.9M593.84 596.2V601.9M603.83 596.2V601.9M613.82 596.2V601.9M623.81 596.2V601.9" class="ax"/><text transform="translate(520.2 596.2) scale(1 1.0)" y="3.46" font-size="8.9" text-anchor="end">0</text><text transform="translate(520.2 580.46) scale(1 1.0)" y="3.46" font-size="8.9" text-anchor="end">500</text><text transform="translate(520.2 564.73) scale(1 1.0)" y="3.46" font-size="8.9" text-anchor="end">1000</text><text transform="translate(520.2 548.99) scale(1 1.0)" y="3.46" font-size="8.9" text-anchor="end">1500</text><text transform="translate(520.2 533.25) scale(1 1.0)" y="3.46" font-size="8.9" text-anchor="end">2000</text><text transform="translate(520.2 517.51) scale(1 1.0)" y="3.46" font-size="8.9" text-anchor="end">2500</text><text transform="translate(520.2 501.78) scale(1 1.0)" y="3.46" font-size="8.9" text-anchor="end">3000</text><text transform="translate(520.2 486.04) scale(1 1.0)" y="3.46" font-size="8.9" text-anchor="end">3500</text><text transform="translate(520.2 470.3) scale(1 1.0)" y="3.46" font-size="8.9" text-anchor="end">4000</text><text transform="translate(533.9 608.06) scale(1 1.0)" y="3.3" font-size="9.3" text-anchor="middle">1</text><text transform="translate(543.89 608.06) scale(1 1.0)" y="3.3" font-size="9.3" text-anchor="middle">2</text><text transform="translate(553.88 608.06) scale(1 1.0)" y="3.3" font-size="9.3" text-anchor="middle">3</text><text transform="translate(563.87 608.06) scale(1 1.0)" y="3.3" font-size="9.3" text-anchor="middle">4</text><text transform="translate(573.86 608.06) scale(1 1.0)" y="3.3" font-size="9.3" text-anchor="middle">5</text><text transform="translate(583.85 608.06) scale(1 1.0)" y="3.3" font-size="9.3" text-anchor="middle">6</text><text transform="translate(593.84 608.06) scale(1 1.0)" y="3.3" font-size="9.3" text-anchor="middle">7</text><text transform="translate(603.83 608.06) scale(1 1.0)" y="3.3" font-size="9.3" text-anchor="middle">8</text><text transform="translate(613.82 608.06) scale(1 1.0)" y="3.3" font-size="9.3" text-anchor="middle">9</text><text transform="translate(623.81 608.06) scale(1 1.0)" y="3.3" font-size="9.3" text-anchor="middle">10</text><text x="579.55" y="628.1" font-size="10.2" text-anchor="middle">Participant</text><text transform="translate(489.5 533.1) rotate(-90)" font-size="10.44" text-anchor="middle">MPO (ng/g wet weight)</text><text transform="translate(480.63 442.03) scale(0.93 1)" font-size="18.2" class="lt">L</text><path d="M530.6 592.7h6.6M540.59 580.7h6.6M550.58 594h6.6M560.57 595.5h6.6M570.56 596h6.6M580.55 591.2h6.6M590.54 595.5h6.6M600.53 596h6.6M610.52 585.5h6.6M620.51 539.9h6.6" class="mn"/><circle cx="533.1" cy="591.7" r="1.95" fill="#f21111"/><circle cx="535" cy="591.7" r="1.95" fill="#f21111"/><circle cx="533.9" cy="596.2" r="1.95" fill="#f21111"/><circle cx="544" cy="575.1" r="1.95" fill="#000000"/><circle cx="545.3" cy="582.1" r="1.95" fill="#000000"/><circle cx="542.4" cy="584.3" r="1.95" fill="#000000"/><circle cx="553.8" cy="591.1" r="1.95" fill="#b554e0"/><circle cx="552.2" cy="596.2" r="1.95" fill="#b554e0"/><circle cx="555.4" cy="596.2" r="1.95" fill="#b554e0"/><circle cx="563.7" cy="594.1" r="1.95" fill="#a6a6a6"/><circle cx="562.1" cy="596.2" r="1.95" fill="#a6a6a6"/><circle cx="565.3" cy="596.2" r="1.95" fill="#a6a6a6"/><circle cx="571.8" cy="596.2" r="1.95" fill="#12c012"/><circle cx="573.6" cy="596.2" r="1.95" fill="#12c012"/><circle cx="575.4" cy="596.2" r="1.95" fill="#12c012"/><circle cx="582.5" cy="588.6" r="1.95" fill="#ee55dd"/><circle cx="585.2" cy="589.3" r="1.95" fill="#ee55dd"/><circle cx="583.9" cy="596.2" r="1.95" fill="#ee55dd"/><circle cx="593.7" cy="594.2" r="1.95" fill="#0b5a14"/><circle cx="592.1" cy="596.2" r="1.95" fill="#0b5a14"/><circle cx="595.3" cy="596.2" r="1.95" fill="#0b5a14"/><circle cx="601.8" cy="596.2" r="1.95" fill="#f7a14f"/><circle cx="603.6" cy="596.2" r="1.95" fill="#f7a14f"/><circle cx="605.4" cy="596.2" r="1.95" fill="#f7a14f"/><circle cx="612.2" cy="578.6" r="1.95" fill="#44eef8"/><circle cx="615" cy="581.9" r="1.95" fill="#44eef8"/><circle cx="613.8" cy="596.2" r="1.95" fill="#44eef8"/><circle cx="623.5" cy="481.8" r="1.95" fill="#0a1ef0"/><circle cx="623.5" cy="541.5" r="1.95" fill="#0a1ef0"/><circle cx="623.6" cy="596.2" r="1.95" fill="#0a1ef0"/></g>
</svg>
</body></html>
